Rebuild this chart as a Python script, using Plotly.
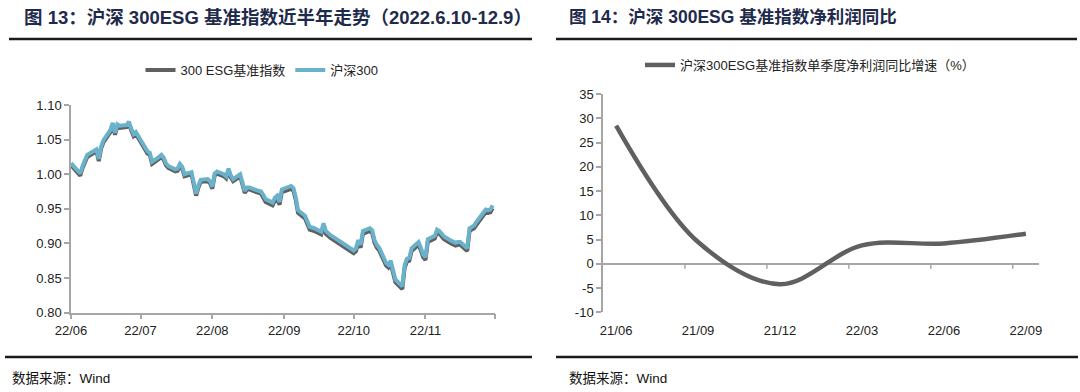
import plotly.graph_objects as go

# ---------------- data: left chart (2022.6.10 - 12.9) ----------------
dates = [
    "2022-06-10", "2022-06-13", "2022-06-14", "2022-06-15", "2022-06-16", "2022-06-17",
    "2022-06-20", "2022-06-21", "2022-06-22", "2022-06-23", "2022-06-24", "2022-06-27",
    "2022-06-28", "2022-06-29", "2022-06-30",
    "2022-07-01", "2022-07-04", "2022-07-05", "2022-07-06", "2022-07-07", "2022-07-08",
    "2022-07-11", "2022-07-12", "2022-07-13", "2022-07-14", "2022-07-15", "2022-07-18",
    "2022-07-19", "2022-07-20", "2022-07-21", "2022-07-22", "2022-07-25", "2022-07-26",
    "2022-07-27", "2022-07-28", "2022-07-29",
    "2022-08-01", "2022-08-02", "2022-08-03", "2022-08-04", "2022-08-05", "2022-08-08",
    "2022-08-09", "2022-08-10", "2022-08-11", "2022-08-12", "2022-08-15", "2022-08-16",
    "2022-08-17", "2022-08-18", "2022-08-19", "2022-08-22", "2022-08-23", "2022-08-24",
    "2022-08-25", "2022-08-26", "2022-08-29", "2022-08-30", "2022-08-31",
    "2022-09-01", "2022-09-02", "2022-09-05", "2022-09-06", "2022-09-07", "2022-09-08",
    "2022-09-09", "2022-09-13", "2022-09-14", "2022-09-15", "2022-09-16", "2022-09-19",
    "2022-09-20", "2022-09-21", "2022-09-22", "2022-09-23", "2022-09-26", "2022-09-27",
    "2022-09-28", "2022-09-29", "2022-09-30",
    "2022-10-10", "2022-10-11", "2022-10-12", "2022-10-13", "2022-10-14", "2022-10-17",
    "2022-10-18", "2022-10-19", "2022-10-20", "2022-10-21", "2022-10-24", "2022-10-25",
    "2022-10-26", "2022-10-27", "2022-10-28", "2022-10-31",
    "2022-11-01", "2022-11-02", "2022-11-03", "2022-11-04", "2022-11-07", "2022-11-08",
    "2022-11-09", "2022-11-10", "2022-11-11", "2022-11-14", "2022-11-15", "2022-11-16",
    "2022-11-17", "2022-11-18", "2022-11-21", "2022-11-22", "2022-11-23", "2022-11-24",
    "2022-11-25", "2022-11-28", "2022-11-29", "2022-11-30",
    "2022-12-01", "2022-12-02", "2022-12-05", "2022-12-06", "2022-12-07", "2022-12-08",
    "2022-12-09",
]

hs300 = [
    1.016, 1.004, 1.001, 1.012, 1.019, 1.028, 1.034, 1.036, 1.022, 1.040, 1.049, 1.064,
    1.074, 1.060, 1.072,
    1.070, 1.071, 1.076, 1.066, 1.058, 1.061, 1.043, 1.037, 1.033, 1.031, 1.018, 1.025,
    1.028, 1.024, 1.016, 1.012, 1.007, 1.008, 1.015, 1.011, 1.000,
    1.003, 0.988, 0.972, 0.984, 0.992, 0.993, 0.990, 0.982, 1.001, 1.004, 1.000, 0.997,
    1.008, 0.998, 0.993, 1.000, 0.988, 0.976, 0.981, 0.981, 0.977, 0.976, 0.975,
    0.970, 0.964, 0.959, 0.966, 0.969, 0.960, 0.978, 0.983, 0.980, 0.967, 0.948, 0.940,
    0.932, 0.924, 0.923, 0.922, 0.917, 0.929, 0.918, 0.914, 0.912,
    0.890, 0.893, 0.905, 0.898, 0.918, 0.922, 0.919, 0.905, 0.898, 0.894, 0.872, 0.869,
    0.875, 0.862, 0.848, 0.838,
    0.869, 0.878, 0.879, 0.893, 0.902, 0.894, 0.884, 0.880, 0.906, 0.911, 0.920, 0.918,
    0.913, 0.910, 0.904, 0.902, 0.901, 0.902, 0.902, 0.893, 0.922, 0.924,
    0.926, 0.931, 0.946, 0.949, 0.948, 0.949, 0.955,
]

esg300 = [
    1.013, 1.001, 0.998, 1.009, 1.016, 1.025, 1.031, 1.033, 1.019, 1.037, 1.046, 1.061,
    1.071, 1.057, 1.069,
    1.067, 1.068, 1.073, 1.063, 1.055, 1.058, 1.040, 1.034, 1.030, 1.028, 1.015, 1.022,
    1.025, 1.021, 1.013, 1.009, 1.004, 1.005, 1.012, 1.008, 0.997,
    1.000, 0.985, 0.969, 0.981, 0.989, 0.990, 0.987, 0.979, 0.998, 1.001, 0.997, 0.994,
    1.005, 0.995, 0.990, 0.997, 0.985, 0.973, 0.978, 0.978, 0.974, 0.973, 0.972,
    0.966, 0.960, 0.955, 0.962, 0.965, 0.956, 0.974, 0.979, 0.976, 0.963, 0.944, 0.936,
    0.928, 0.920, 0.919, 0.918, 0.913, 0.925, 0.914, 0.910, 0.908,
    0.886, 0.889, 0.901, 0.894, 0.914, 0.918, 0.915, 0.901, 0.894, 0.890, 0.868, 0.865,
    0.871, 0.858, 0.844, 0.834,
    0.865, 0.874, 0.875, 0.889, 0.898, 0.890, 0.880, 0.876, 0.902, 0.907, 0.916, 0.914,
    0.909, 0.906, 0.900, 0.898, 0.897, 0.898, 0.898, 0.889, 0.918, 0.920,
    0.922, 0.927, 0.942, 0.945, 0.944, 0.945, 0.951,
]

left_tick_dates = ["2022-06-10", "2022-07-10", "2022-08-10", "2022-09-10",
                   "2022-10-10", "2022-11-10", "2022-12-10"]
left_tick_labels = ["22/06", "22/07", "22/08", "22/09", "22/10", "22/11", ""]

# ---------------- data: right chart ----------------
quarters = ["21/06", "21/09", "21/12", "22/03", "22/06", "22/09"]
profit_yoy = [28.5, 4.5, -4.2, 3.8, 4.2, 6.2]
right_y_ticks = [35, 30, 25, 20, 15, 10, 5, 0, -5, -10]
right_y_labels = ["35", "30", "25", "20", "15", "10", "5", "0", "-5", "-10"]

# ---------------- styling ----------------
W, H = 1080, 392
FONT = "Liberation Sans, Noto Sans CJK SC, sans-serif"
AXIS_COLOR = "#A6A6A6"
GRAY = "#606060"
BLUE = "#6AB2CC"
TITLE_COLOR = "#1F2B4C"


def px_x(p):
    return p / W


def px_y(p):
    return 1 - p / H


fig = go.Figure()

fig.add_trace(go.Scatter(
    x=dates, y=esg300, name="300 ESG基准指数", mode="lines",
    line=dict(color=GRAY, width=4), xaxis="x", yaxis="y", legend="legend"))
fig.add_trace(go.Scatter(
    x=dates, y=hs300, name="沪深300", mode="lines",
    line=dict(color=BLUE, width=4), xaxis="x", yaxis="y", legend="legend"))

q_idx = list(range(len(quarters)))
fig.add_trace(go.Scatter(
    x=q_idx, y=profit_yoy, name="沪深300ESG基准指数单季度净利润同比增速（%）",
    mode="lines", line=dict(color=GRAY, width=4.5, shape="spline", smoothing=1.0),
    xaxis="x2", yaxis="y2", legend="legend2"))

x2_pad = 0.16
shapes = []
# category tick marks on the zero line of the right chart
for i in q_idx[1:]:
    shapes.append(dict(type="line", xref="x2", yref="y2", x0=i - x2_pad, x1=i - x2_pad,
                       y0=0, y1=-1.0, line=dict(color=AXIS_COLOR, width=1.5)))
# header / footer rules
for (x0, x1) in [(9, 532), (556, 1077)]:
    shapes.append(dict(type="line", xref="paper", yref="paper",
                       x0=px_x(x0), x1=px_x(x1), y0=px_y(39), y1=px_y(39),
                       line=dict(color="#1A1A1A", width=2.5)))
for (x0, x1) in [(5, 532), (556, 1078)]:
    shapes.append(dict(type="line", xref="paper", yref="paper",
                       x0=px_x(x0), x1=px_x(x1), y0=px_y(357), y1=px_y(357),
                       line=dict(color="#1A1A1A", width=2.5)))

annotations = [
    dict(text="<b>图 13：沪深 300ESG 基准指数近半年走势（2022.6.10-12.9）</b>",
         x=px_x(22), y=px_y(17), xref="paper", yref="paper", xanchor="left",
         yanchor="middle", showarrow=False,
         font=dict(family=FONT, size=18.5, color=TITLE_COLOR)),
    dict(text="<b>图 14：沪深 300ESG 基准指数净利润同比</b>",
         x=px_x(567), y=px_y(17), xref="paper", yref="paper", xanchor="left",
         yanchor="middle", showarrow=False,
         font=dict(family=FONT, size=17.5, color=TITLE_COLOR)),
    dict(text="数据来源：Wind", x=px_x(10), y=px_y(378), xref="paper", yref="paper",
         xanchor="left", yanchor="middle", showarrow=False,
         font=dict(family=FONT, size=13.5, color="#111111")),
    dict(text="数据来源：Wind", x=px_x(567), y=px_y(378), xref="paper", yref="paper",
         xanchor="left", yanchor="middle", showarrow=False,
         font=dict(family=FONT, size=13.5, color="#111111")),
]

tickfont = dict(family=FONT, size=13, color="#222222")

fig.update_layout(
    width=W, height=H,
    margin=dict(l=0, r=0, t=0, b=0, autoexpand=False),
    paper_bgcolor="white", plot_bgcolor="white",
    font=dict(family=FONT, size=13, color="#222222"),
    showlegend=True,
    xaxis=dict(domain=[px_x(71), px_x(495)], anchor="y", type="date",
               range=["2022-06-10", "2022-12-10"], automargin=False,
               tickmode="array", tickvals=left_tick_dates, ticktext=left_tick_labels,
               ticks="outside", ticklen=5, tickcolor=AXIS_COLOR, tickwidth=1.5,
               showline=True, linecolor=AXIS_COLOR, linewidth=1.5,
               showgrid=False, zeroline=False, tickfont=tickfont),
    yaxis=dict(domain=[px_y(312.7), px_y(105)], anchor="x", range=[0.80, 1.10],
               tick0=0.80, dtick=0.05, tickformat=".2f", automargin=False,
               ticks="outside", ticklen=5, tickcolor=AXIS_COLOR, tickwidth=1.5,
               showline=True, linecolor=AXIS_COLOR, linewidth=1.5,
               showgrid=False, zeroline=False, tickfont=tickfont),
    xaxis2=dict(domain=[px_x(603), px_x(1039)], anchor="y2", automargin=False,
                range=[-x2_pad, len(quarters) - 1 + x2_pad],
                tickmode="array", tickvals=q_idx, ticktext=quarters,
                ticks="", ticklabelstandoff=9,
                showline=False, showgrid=False, zeroline=False,
                tickfont=tickfont),
    yaxis2=dict(domain=[px_y(312.3), px_y(94)], anchor="x2", range=[-10, 35],
                automargin=False,
                tickmode="array", tickvals=right_y_ticks, ticktext=right_y_labels,
                ticks="outside", ticklen=5, tickcolor=AXIS_COLOR, tickwidth=1.5,
                showline=True, linecolor=AXIS_COLOR, linewidth=1.5,
                showgrid=False, zeroline=True, zerolinecolor=AXIS_COLOR,
                zerolinewidth=1.5, tickfont=tickfont),
    legend=dict(orientation="h", x=px_x(262), xanchor="center", y=px_y(70),
                yanchor="middle", bgcolor="rgba(0,0,0,0)",
                font=dict(family=FONT, size=13, color="#222222")),
    legend2=dict(orientation="h", x=px_x(810), xanchor="center", y=px_y(65),
                 yanchor="middle", bgcolor="rgba(0,0,0,0)",
                 font=dict(family=FONT, size=13, color="#222222")),
    shapes=shapes,
    annotations=annotations,
)

fig.write_html("out.html", config={"displayModeBar": False},
               post_script="document.body.style.margin='0';")
